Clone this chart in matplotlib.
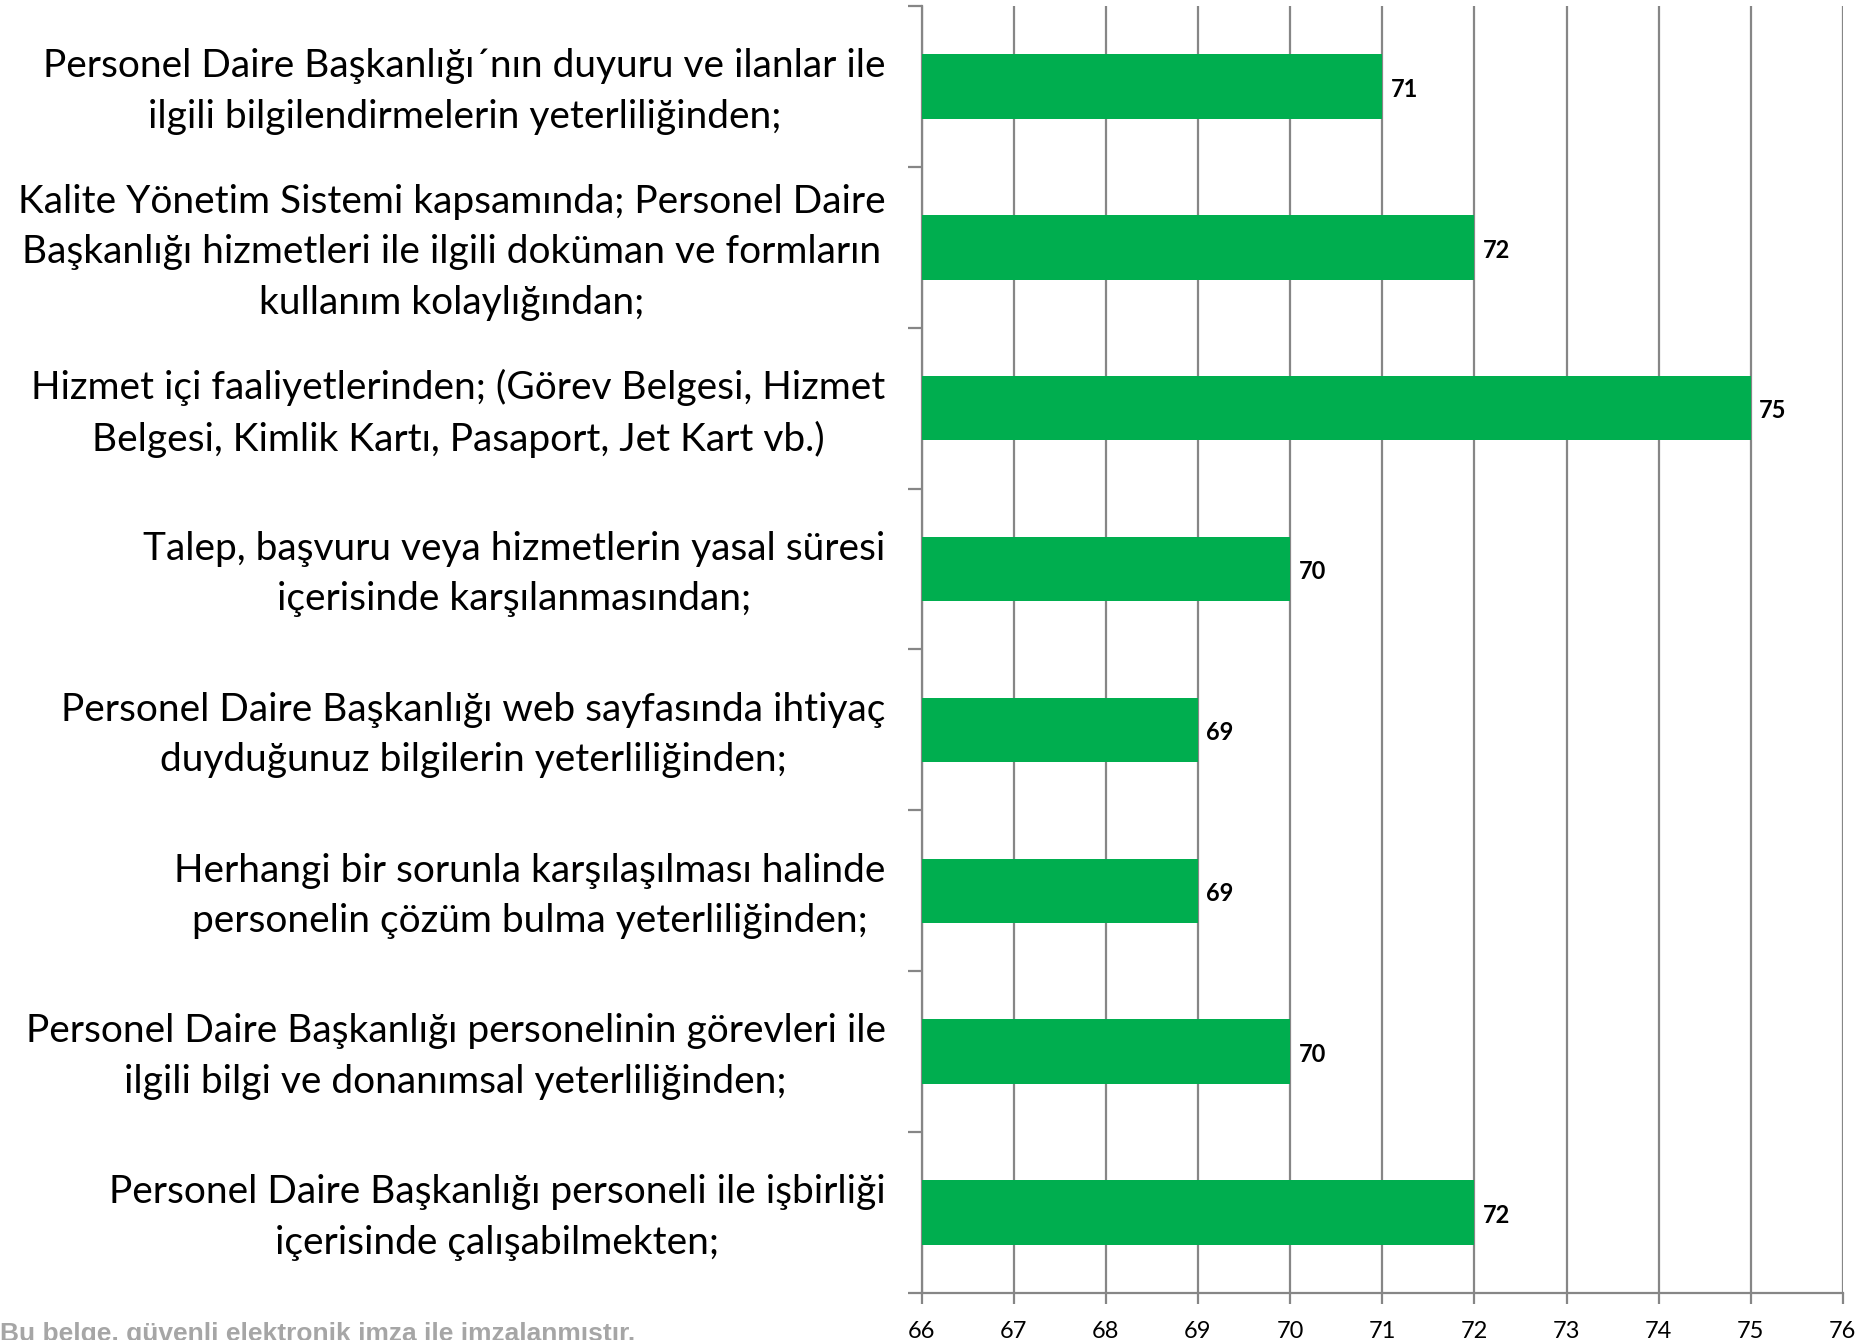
import matplotlib
matplotlib.use("Agg")
import matplotlib.pyplot as plt
import matplotlib.transforms as mtransforms

# ------------------------------------------------------------------ data ----
labels = [
    "Personel Daire Başkanlığı´nın duyuru ve ilanlar ile\nilgili bilgilendirmelerin yeterliliğinden;",
    "Kalite Yönetim Sistemi kapsamında; Personel Daire\nBaşkanlığı hizmetleri ile ilgili doküman ve formların\nkullanım kolaylığından;",
    "Hizmet içi faaliyetlerinden; (Görev Belgesi, Hizmet\nBelgesi, Kimlik Kartı, Pasaport, Jet Kart vb.)",
    "Talep, başvuru veya hizmetlerin yasal süresi\niçerisinde karşılanmasından;",
    "Personel Daire Başkanlığı web sayfasında ihtiyaç\nduyduğunuz bilgilerin yeterliliğinden;",
    "Herhangi bir sorunla karşılaşılması halinde\npersonelin çözüm bulma yeterliliğinden;",
    "Personel Daire Başkanlığı personelinin görevleri ile\nilgili bilgi ve donanımsal yeterliliğinden;",
    "Personel Daire Başkanlığı personeli ile işbirliği\niçerisinde çalışabilmekten;",
]
values = [71, 72, 75, 70, 69, 69, 70, 72]
x_ticks = list(range(66, 77))

BAR_COLOR = "#00ae4f"
AXIS_COLOR = "#868686"
FONT = "Lato"

# --------------------------------------------------------------- figure -----
fig = plt.figure(figsize=(18.64, 13.40), dpi=100)
ax = fig.add_axes([0.4944, 0.0351, 0.4943, 0.9604])

n = len(values)
ys = list(range(n))
ax.barh(ys, [v - 66 for v in values], left=66, height=0.4,
        color=BAR_COLOR, zorder=3)

ax.set_xlim(66, 76)
ax.set_ylim(n - 0.5, -0.5)

# vertical gridlines
ax.set_xticks(x_ticks)
ax.grid(axis="x", color=AXIS_COLOR, linewidth=1.6, zorder=0)
ax.set_axisbelow(True)

for side in ["top", "right"]:
    ax.spines[side].set_visible(False)
for side in ["left", "bottom"]:
    ax.spines[side].set_color(AXIS_COLOR)
    ax.spines[side].set_linewidth(1.6)

ax.tick_params(axis="x", length=8, width=1.6, color=AXIS_COLOR,
               labelsize=17, pad=12)
for t in ax.get_xticklabels():
    t.set_fontfamily(FONT)

# category boundary ticks on y axis, no labels
ax.set_yticks([i - 0.5 for i in range(n + 1)])
ax.set_yticklabels([])
ax.tick_params(axis="y", length=10, width=1.6, color=AXIS_COLOR)

# category labels, block right-aligned, lines centered
trans = mtransforms.offset_copy(
    mtransforms.blended_transform_factory(ax.transAxes, ax.transData),
    fig=fig, x=-36, y=-5, units="dots")
for y, lab in zip(ys, labels):
    ax.text(0, y, lab, transform=trans, ha="right", va="center",
            multialignment="center", fontsize=28, family=FONT,
            linespacing=1.5)

# value labels
for y, v in zip(ys, values):
    ax.annotate(f"{v}", xy=(v, y), xytext=(6, -2), textcoords="offset points",
                ha="left", va="center", fontsize=17, fontweight="bold",
                family=FONT)

# signature watermark, partly cut at the bottom edge
fig.text(0.0, -0.001, "Bu belge, güvenli elektronik imza ile imzalanmıştır.",
         ha="left", va="baseline", fontsize=19, fontweight="bold",
         color="#a6a6a6", family="Liberation Sans")

fig.savefig("out.png", dpi=100)
